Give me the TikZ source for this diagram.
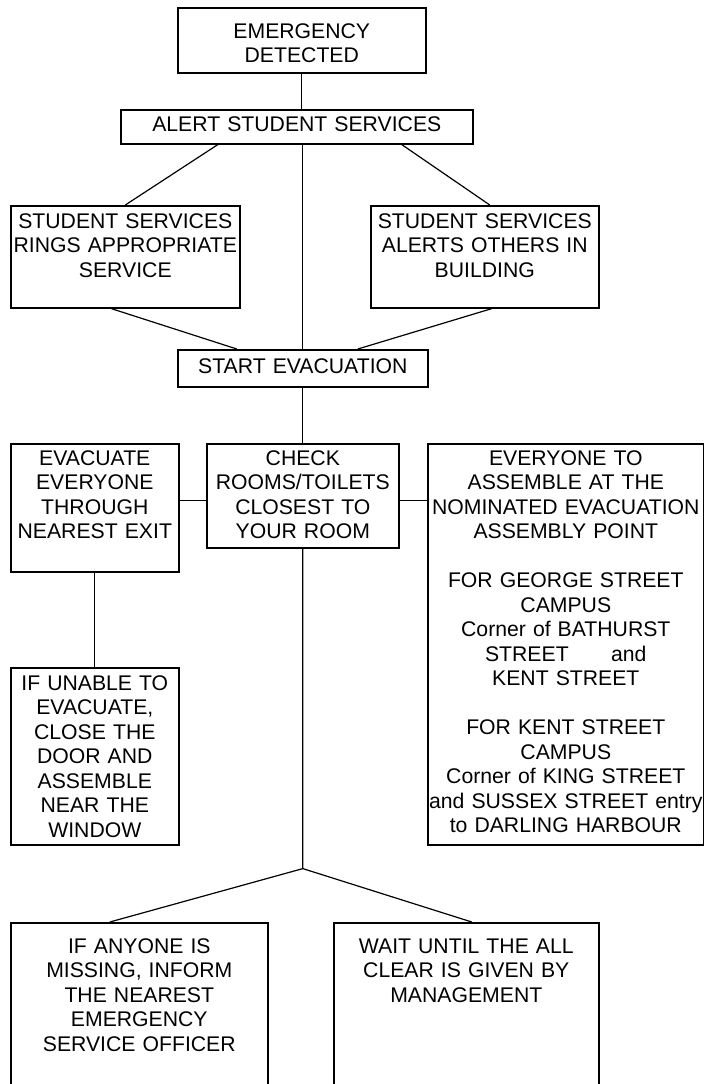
\documentclass[tikz,border=0pt]{standalone}
\usepackage{fontspec}
\setmainfont{Liberation Sans}
\usetikzlibrary{positioning}

\tikzset{
  stepbox/.style={draw, line width=0.8pt, anchor=north west, inner xsep=0.5pt, inner ysep=0pt,
    align=center, text height=11pt, font=\fontsize{10.6}{12.25}\selectfont},
  link/.style={line width=0.6pt}
}

\begin{document}
\begin{tikzpicture}[x=0.5pt, y=-0.5pt]
\useasboundingbox (0,0) rectangle (704,1084);

% Boxes, placed by their top left corner
\node[stepbox, text width=123pt, text height=15.25pt, text depth=17.25pt] (emerg) at (177,7) {EMERGENCY\\DETECTED};
\node[stepbox, text width=175pt, text depth=6pt] (alert) at (120,109) {ALERT STUDENT SERVICES};
\node[stepbox, text width=113.5pt, text height=11.25pt, text depth=39.75pt] (ssring) at (10,205) {STUDENT SERVICES\\RINGS APPROPRIATE\\SERVICE};
\node[stepbox, text width=113pt, text height=11.25pt, text depth=39.75pt] (ssalert) at (370,205) {STUDENT SERVICES\\ALERTS OTHERS IN\\BUILDING};
\node[stepbox, text width=124pt, text height=11.75pt, text depth=6.75pt] (start) at (177,349) {START EVACUATION};
\node[stepbox, text width=83pt, text height=10.75pt, text depth=53.25pt] (evac) at (10,443) {EVACUATE\\EVERYONE\\THROUGH\\NEAREST EXIT};
\node[stepbox, text width=95pt, text height=10.75pt, text depth=41.25pt] (check) at (206,443) {CHECK\\ROOMS/TOILETS\\CLOSEST TO\\YOUR ROOM};
\node[stepbox, text width=137pt, text height=10.75pt, text depth=189.75pt] (everyone) at (427,443)
  {EVERYONE TO\\ASSEMBLE AT THE\\NOMINATED EVACUATION\\ASSEMBLY POINT\\[12.25pt]
   FOR GEORGE STREET\\CAMPUS\\Corner of BATHURST\\STREET\hspace{2em}and\\KENT STREET\\[12.25pt]
   FOR KENT STREET\\CAMPUS\\Corner of KING STREET\\and SUSSEX STREET entry\\to DARLING HARBOUR};
\node[stepbox, text width=83pt, text height=11.1pt, text depth=77.4pt] (unable) at (10,667) {IF UNABLE TO\\EVACUATE,\\CLOSE THE\\DOOR AND\\ASSEMBLE\\NEAR THE\\WINDOW};
\node[stepbox, text width=127.5pt, text height=15.25pt, text depth=78.75pt] (missing) at (10,922) {IF ANYONE IS\\MISSING, INFORM\\THE NEAREST\\EMERGENCY\\SERVICE OFFICER};
\node[stepbox, text width=131.5pt, text height=15.25pt, text depth=78.75pt] (wait) at (333,922) {WAIT UNTIL THE ALL\\CLEAR IS GIVEN BY\\MANAGEMENT};

% Connectors
\draw[link] (emerg.south) -- (emerg.south |- alert.north);
\draw[link] ([xshift=-39.5pt]alert.south) -- (ssring.north);
\draw[link] ([xshift=52.5pt]alert.south) -- ([xshift=2.5pt]ssalert.north);
\draw[link] (start.north) -- (start.north |- alert.south);
\draw[link] ([xshift=-7pt]ssring.south) -- ([xshift=-33pt]start.north);
\draw[link] ([xshift=3.5pt]ssalert.south) -- ([xshift=27.5pt]start.north);
\draw[link] (start.south) -- (check.north);
\draw[link] ([yshift=-2.5pt]check.west) -- ([yshift=-2.5pt]check.west -| evac.east);
\draw[link] ([yshift=-2.5pt]check.east) -- ([yshift=-2.5pt]check.east -| everyone.west);
\draw[link] (evac.south) -- (unable.north);
\coordinate[below=160pt of check.south] (split);
\draw[link] (check.south) -- (split) -- ([xshift=-14.75pt]missing.north);
\draw[link] (split) -- ([xshift=2.75pt]wait.north);
\end{tikzpicture}
\end{document}
